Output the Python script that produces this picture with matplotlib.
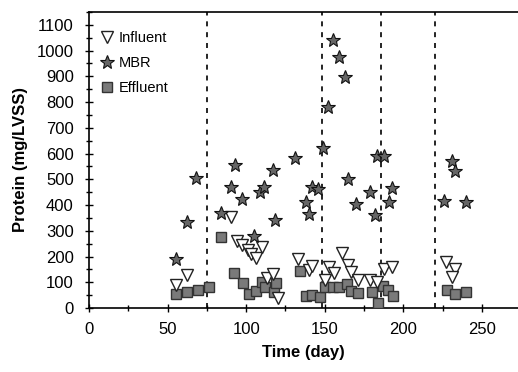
import numpy as np
import matplotlib.pyplot as plt
from matplotlib.ticker import MultipleLocator

plt.rcParams['font.family'] = ['Liberation Sans', 'DejaVu Sans']

# influent protein
inf_day = [55, 62, 90.5, 94, 97.5, 101, 103, 106, 110, 113, 117, 120, 133,
           140, 142, 150, 153, 156, 161, 165, 167, 171, 179, 183, 188, 193,
           227, 233, 231]
inf_val = [89, 130, 354, 262, 246, 225, 210, 194, 237, 116, 132, 39, 190,
           148, 165, 109, 159, 136, 214, 167, 140, 109, 109, 101, 152, 161,
           177, 150, 120]

# MBR protein
mbr_day = [55, 62, 68, 84, 90.5, 93, 97.5, 105, 109, 111.5, 117, 118.5, 131,
           138, 140, 142, 146, 149, 152, 155, 159, 163, 165, 170, 179, 182,
           183.5, 188, 191, 193, 226, 231, 233, 240]
mbr_val = [190, 334, 505, 369, 470, 555, 423, 280, 450, 470, 535, 342, 583,
           412, 365, 470, 462, 620, 780, 1041, 975, 897, 501, 404, 451, 361,
           590, 590, 412, 466, 416, 571, 532, 412]

# effluent protein
eff_day = [55.5, 62, 69, 76.5, 84, 92, 98, 101.5, 106, 110, 112, 118, 119,
           134, 138, 142, 147, 150, 155, 159, 164, 167, 171, 180, 184, 187,
           190, 193.5, 228, 233, 240]
eff_val = [54, 62, 70, 82, 276, 136, 97, 54, 66, 101, 82, 62, 97,
           142, 48, 52, 41, 80, 82, 80, 92, 66, 60, 62, 21, 87,
           70, 46, 70, 54, 62]

# operating period boundaries
periods = [75, 148, 185.5, 220]

fig = plt.figure(figsize=(5.18, 3.72), dpi=100)
ax = fig.add_axes([0.172, 0.172, 0.828, 0.796])

for d in periods:
    ax.plot([d, d], [0, 1150], color='black', lw=1.2, ls=(0, (3, 3.5)), zorder=1)

ax.plot(eff_day, eff_val, 's', ms=7, mfc='#7a7a7a', mec='#333333', mew=1.0,
        label='Effluent', zorder=3)
ax.plot(inf_day, inf_val, 'v', ms=9, mfc='white', mec='#222222', mew=1.0,
        label='Influent', zorder=4)
ax.plot(mbr_day, mbr_val, '*', ms=10, mfc='#666666', mec='#111111', mew=0.8,
        label='MBR', zorder=5)

h, l = ax.get_legend_handles_labels()
order = [1, 2, 0]
ax.legend([h[i] for i in order], [l[i] for i in order], loc='upper left',
          bbox_to_anchor=(-0.023, 1.0), frameon=False, fontsize=10.5,
          handletextpad=0.2, labelspacing=0.75, borderaxespad=0.9,
          handlelength=1.2)

ax.set_xlim(0, 273)
ax.set_ylim(0, 1150)
ax.xaxis.set_major_locator(MultipleLocator(50))
ax.xaxis.set_minor_locator(MultipleLocator(25))
ax.yaxis.set_major_locator(MultipleLocator(100))
ax.yaxis.set_minor_locator(MultipleLocator(50))
ax.set_yticks(np.arange(0, 1101, 100))
ax.tick_params(which='major', direction='inout', length=6, width=1, labelsize=12)
ax.tick_params(axis='x', which='major', pad=7)
ax.tick_params(axis='y', which='major', pad=8)
ax.tick_params(which='minor', direction='inout', length=4, width=1)
ax.spines['right'].set_visible(False)
for s in ['left', 'bottom', 'top']:
    ax.spines[s].set_linewidth(1.2)

ax.set_xlabel('Time (day)', fontsize=12, fontweight='bold', labelpad=6)
ax.set_ylabel('Protein (mg/LVSS)', fontsize=12, fontweight='bold', labelpad=6)

fig.savefig('out.png', dpi=100)
